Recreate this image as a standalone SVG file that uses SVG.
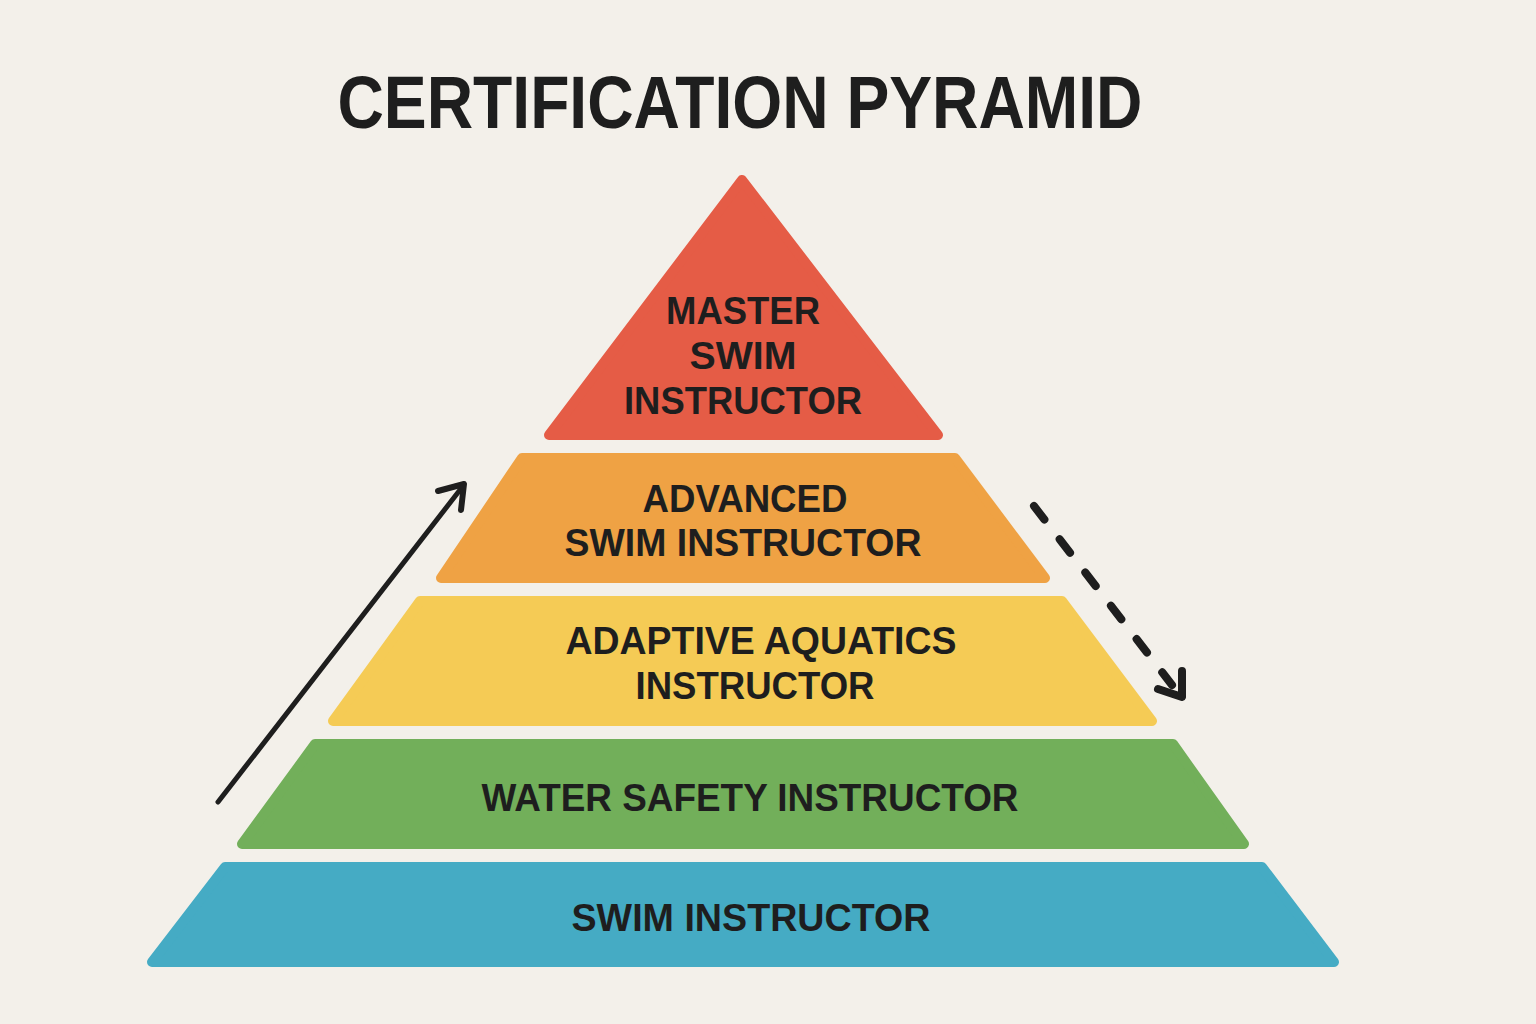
<svg xmlns="http://www.w3.org/2000/svg" width="1536" height="1024" viewBox="0 0 1536 1024">
<style>
.bg{fill:#f3f0ea}
.tier{stroke-width:10;stroke-linejoin:round}
.lbl{font-family:"Liberation Sans","Arial",sans-serif;font-weight:700;fill:#1e1e1e;text-anchor:middle;font-size:39px}
.title{font-family:"Liberation Sans","Arial",sans-serif;font-weight:700;fill:#1e1e1e;text-anchor:middle;font-size:74px}
.conn{fill:none;stroke:#1e1e1e;stroke-linecap:round;stroke-linejoin:round}
</style>
<rect class="bg" x="0" y="0" width="1536" height="1024"/>
<text class="title" x="740" y="128" textLength="805" lengthAdjust="spacingAndGlyphs">CERTIFICATION PYRAMID</text>

<g id="tier-master">
<polygon class="tier" fill="#e55c46" stroke="#e55c46" points="742,180 938,435 549,435"/>
<text class="lbl" x="743" y="324" textLength="154" lengthAdjust="spacingAndGlyphs">MASTER</text>
<text class="lbl" x="743" y="369" textLength="107" lengthAdjust="spacingAndGlyphs">SWIM</text>
<text class="lbl" x="743" y="414" textLength="238" lengthAdjust="spacingAndGlyphs">INSTRUCTOR</text>
</g>

<g id="tier-advanced">
<polygon class="tier" fill="#efa244" stroke="#efa244" points="522,458 955,458 1045,578 441,578"/>
<text class="lbl" x="745" y="512" textLength="205" lengthAdjust="spacingAndGlyphs">ADVANCED</text>
<text class="lbl" x="743" y="556" textLength="357" lengthAdjust="spacingAndGlyphs">SWIM INSTRUCTOR</text>
</g>

<g id="tier-adaptive">
<polygon class="tier" fill="#f5cb55" stroke="#f5cb55" points="420,601 1062,601 1152,721 333,721"/>
<text class="lbl" x="761" y="654" textLength="391" lengthAdjust="spacingAndGlyphs">ADAPTIVE AQUATICS</text>
<text class="lbl" x="755" y="699" textLength="239" lengthAdjust="spacingAndGlyphs">INSTRUCTOR</text>
</g>

<g id="tier-wsi">
<polygon class="tier" fill="#72af5a" stroke="#72af5a" points="315,744 1173,744 1244,844 242,844"/>
<text class="lbl" font-size="44" x="750" y="811" textLength="537" lengthAdjust="spacingAndGlyphs">WATER SAFETY INSTRUCTOR</text>
</g>

<g id="tier-swim">
<polygon class="tier" fill="#45abc4" stroke="#45abc4" points="225,867 1262,867 1334,962 152,962"/>
<text class="lbl" font-size="44" x="751" y="931" textLength="359" lengthAdjust="spacingAndGlyphs">SWIM INSTRUCTOR</text>
</g>

<g id="connectors">
<line class="conn" stroke-width="5" x1="218" y1="802" x2="463" y2="486"/>
<polyline class="conn" stroke-width="6" points="438,491 464,484 461,510"/>
<line class="conn" stroke-width="8" stroke-dasharray="17 25" x1="1034" y1="506" x2="1172" y2="685"/>
<polyline class="conn" stroke-width="8" points="1158,689 1182,697 1182,671"/>
</g>
</svg>
